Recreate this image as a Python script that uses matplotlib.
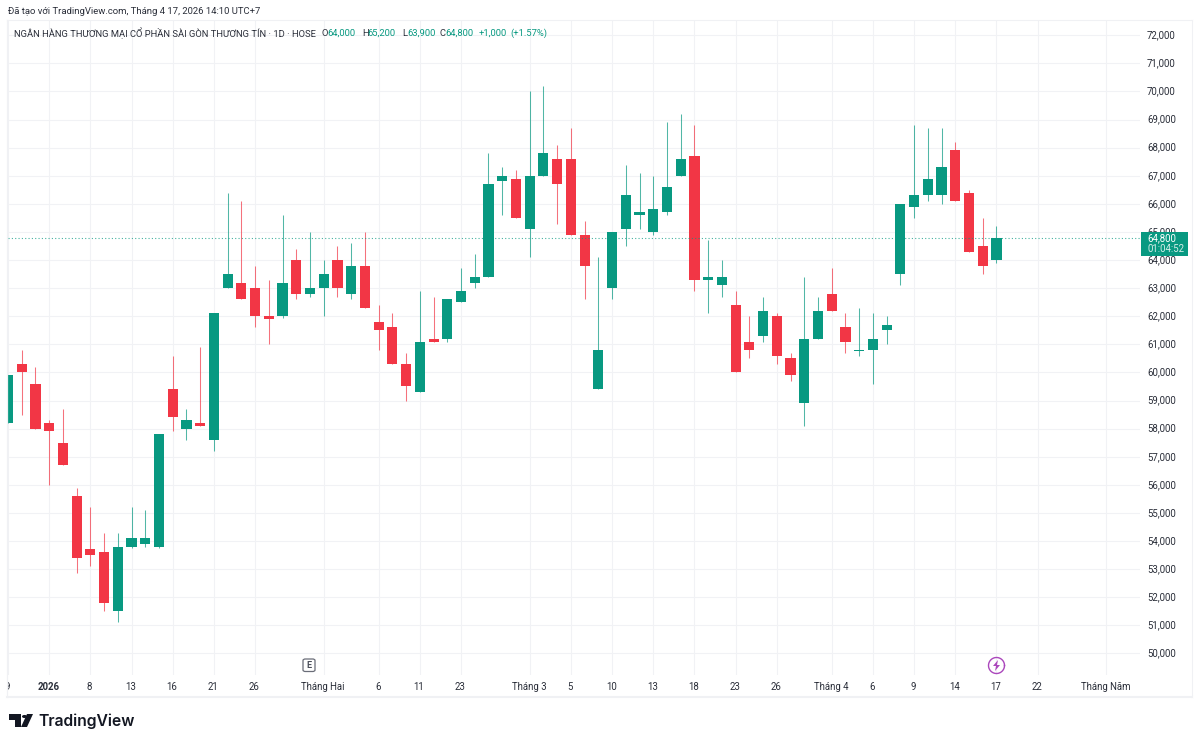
import numpy as np
import matplotlib
matplotlib.use('Agg')
import matplotlib.pyplot as plt
from matplotlib.patches import Rectangle, Circle, Polygon, FancyBboxPatch
from matplotlib.transforms import IdentityTransform, ScaledTranslation

plt.rcParams['font.family'] = ['Roboto', 'DejaVu Sans']

W, H = 1200, 744
GREEN = '#089981'
RED = '#F23645'
GRID = '#F1F2F5'
TEXT = '#2A2E39'

# OHLC, one candle per session
opens = [58200, 60300, 59600, 58200, 57500, 55600, 53700, 53600, 51500, 53800,
         53900, 53800, 59400, 58000, 58200, 57600, 63000, 63200, 63000, 62000,
         62000, 64000, 62800, 63000, 64000, 62800, 63800, 61800, 61600, 60300,
         59300, 61200, 61200, 62500, 63200, 63400, 66800, 66900, 65100, 67000,
         67600, 67600, 64900, 59400, 63000, 65100, 65600, 65000, 65700, 67000,
         67700, 63300, 63100, 62400, 61100, 61300, 62000, 60500, 58900, 61200,
         62800, 61600, 60750, 60800, 61500, 63500, 65900, 66300, 66300, 67900,
         66400, 64500, 64000]
highs = [59900, 60800, 60200, 58300, 58700, 55900, 55200, 54300, 54300, 55200,
         55100, 57800, 60600, 58700, 60900, 62100, 66400, 66100, 63800, 63300,
         65600, 64400, 65000, 64000, 64500, 64600, 65000, 62400, 62100, 60700,
         62900, 62700, 62600, 63700, 64200, 67800, 67300, 67200, 70000, 70200,
         68100, 68700, 65400, 64100, 65000, 67400, 67100, 67000, 68900, 69200,
         68800, 64700, 64000, 62900, 62000, 62700, 62100, 60700, 63400, 62700,
         63700, 62100, 62300, 62100, 62000, 66000, 68800, 68700, 68700, 68200,
         66500, 65500, 65200]
lows = [58200, 58500, 58000, 56000, 56700, 52850, 53100, 51500, 51100, 53750,
        53800, 53750, 57900, 57600, 58100, 57200, 63000, 62600, 61600, 61000,
        61950, 62600, 62700, 62000, 62700, 62600, 62300, 60800, 60300, 59000,
        59300, 61100, 61100, 62500, 63000, 63400, 65600, 65500, 64100, 67000,
        65300, 64900, 62600, 59400, 62600, 64500, 65100, 64900, 65600, 67000,
        62900, 62100, 62700, 60000, 60500, 61100, 60300, 59700, 58100, 61200,
        62200, 60700, 60600, 59600, 61000, 63100, 65500, 66100, 66000, 66100,
        64300, 63500, 63900]
closes = [59900, 60000, 58000, 57900, 56700, 53400, 53500, 51800, 53800, 54100,
          54100, 57800, 58400, 58300, 58100, 62100, 63500, 62600, 62000, 61900,
          63200, 62800, 63000, 63500, 63000, 63800, 62300, 61500, 60300, 59500,
          61100, 61100, 62600, 62900, 63400, 66700, 67000, 65500, 67000, 67800,
          66700, 64900, 63800, 60800, 65000, 66300, 65700, 65800, 66600, 67600,
          63300, 63400, 63400, 60000, 60800, 62200, 60600, 59900, 61200, 62200,
          62200, 61100, 60800, 61200, 61700, 66000, 66300, 66900, 67300, 66100,
          64300, 63800, 64800]

price_ticks = list(range(50000, 72001, 1000))
date_ticks = [0, 3, 6, 9, 12, 15, 18, 23, 27, 30, 33, 38, 41, 44, 47, 50, 53, 56,
              60, 63, 66, 69, 72, 75, 80]
date_labels = ['9', '2026', '8', '13', '16', '21', '26', 'Tháng Hai', '6', '11',
               '23', 'Tháng 3', '5', '10', '13', '18', '23', '26', 'Tháng 4',
               '6', '9', '14', '17', '22', 'Tháng Năm']
bold_dates = ['2026']
last_price = 64800

opens = np.array(opens)
closes = np.array(closes)
highs = np.array(highs)
lows = np.array(lows)
idx = np.arange(len(opens))
colors = np.where(closes >= opens, GREEN, RED)

fig = plt.figure(figsize=(W / 100, H / 100), dpi=100, facecolor='white')


# pixel position from the top left of the image -> figure fraction
def fx(px):
    return px / W


def fy(py):
    return 1 - py / H


# plot pane, pixels
left, right, top, bottom = 8, 1140, 20, 675
ax = fig.add_axes([fx(left), fy(bottom), fx(right - left), (bottom - top) / H])
ax.set_facecolor('white')

# x: candle 1 centre at 20.3 px, 13.746 px apart
step = 13.746
ax.set_xlim((left - 6.55) / step, (right - 6.55) / step)
# y: 72,000 at 35.3 px, 50,000 at 653.4 px
per_px = 22000 / (653.4 - 35.3)
ax.set_ylim(50000 - (bottom - 653.4) * per_px, 72000 + (35.3 - top) * per_px)

ax.set_axisbelow(True)
ax.set_xticks(date_ticks)
ax.set_xticklabels(date_labels)
ax.set_yticks(price_ticks)
ax.set_yticklabels([f'{p:,}' for p in price_ticks])
ax.yaxis.tick_right()
ax.grid(True, color=GRID, linewidth=0.75)
ax.tick_params(axis='both', length=0, labelsize=6.9, labelcolor=TEXT)
ax.tick_params(axis='x', pad=5)
ax.tick_params(axis='y', pad=5)
for s in ax.spines.values():
    s.set_visible(False)

# nudge tick labels onto the reference pixels
for lbl in ax.get_yticklabels():
    lbl.set_transform(lbl.get_transform() + ScaledTranslation(0, 1 / 100, fig.dpi_scale_trans))
for lbl in ax.get_xticklabels():
    lbl.set_transform(lbl.get_transform() + ScaledTranslation(-0.8 / 100, 0, fig.dpi_scale_trans))

# keep the cut off first date label inside the pane
clip = Rectangle((left, 0), right - left, H, transform=IdentityTransform())
for lbl in ax.get_xticklabels():
    lbl.set_clip_path(clip)
    if lbl.get_text() in bold_dates:
        lbl.set_fontweight('bold')

# candles
ax.vlines(idx, lows, highs, colors=colors, linewidth=0.75, alpha=0.7, zorder=2)
ax.bar(idx, np.abs(closes - opens), bottom=np.minimum(opens, closes), width=0.74,
       color=colors, linewidth=0, zorder=3)

# last price line
ax.axhline(last_price, color=GREEN, linewidth=0.8, linestyle=(0, (1, 2)), alpha=0.75, zorder=4)

# frame around chart and scale
frame = '#F0F1F4'
for x0, y0, x1, y1, lw in [(7, 20, 1192, 20, 1), (7, 20, 7, 697, 1.2), (1192, 20, 1192, 697, 1),
                           (7, 697, 1192, 697, 2)]:
    fig.add_artist(plt.Line2D([fx(x0), fx(x1)], [fy(y0), fy(y1)], color=frame, linewidth=lw * 0.75))

# price badge
fig.add_artist(Rectangle((fx(1141), fy(256)), fx(47), 24 / H, transform=fig.transFigure,
                         facecolor=GREEN, edgecolor='none', zorder=10))
fig.text(fx(1147), fy(238), '64,800', color='white', fontsize=6.9, va='center', zorder=11)
fig.text(fx(1147), fy(249), '01:04:52', color='#D5EEE9', fontsize=6.9, va='center', zorder=11)

# header lines
fig.text(fx(8), fy(11.5), 'Đã tạo với TradingView.com, Tháng 4 17, 2026 14:10 UTC+7',
         color=TEXT, fontsize=6.8, va='center')
fig.text(fx(14), fy(33), 'NGÂN HÀNG THƯƠNG MẠI CỔ PHẦN SÀI GÒN THƯƠNG TÍN · 1D · HOSE',
         color=TEXT, fontsize=6.76, va='center')
legend_bits = [(321, 'O', TEXT), (327, '64,000', GREEN), (362, 'H', TEXT), (367, '65,200', GREEN),
               (402, 'L', TEXT), (407, '63,900', GREEN), (440, 'C', TEXT), (445, '64,800', GREEN),
               (479, '+1,000', GREEN), (510, '(+1.57%)', GREEN)]
for x, s, c in legend_bits:
    fig.text(fx(x), fy(33), s, color=c, fontsize=6.75, va='center')


# drawn in image pixels, y flipped
def px_poly(points, **kw):
    pts = [(fx(x), fy(y)) for x, y in points]
    fig.add_artist(Polygon(pts, closed=True, transform=fig.transFigure, **kw))


# earnings marker
fig.add_artist(FancyBboxPatch((fx(303), fy(671.5)), fx(12), 12.5 / H,
                              boxstyle='round,pad=0,rounding_size=0.002', transform=fig.transFigure,
                              facecolor='white', edgecolor='#6A6D78', linewidth=0.9))
fig.text(fx(309), fy(665.5), 'E', color='#4A4E59', fontsize=6.5, ha='center', va='center', fontweight='bold')

# dividend/split style marker
purple = '#AB47BC'
cx, cy = 996.5, 665.5
t = np.linspace(0, 2 * np.pi, 60)
fig.add_artist(plt.Line2D(fx(cx + 8 * np.cos(t)), fy(cy + 8 * np.sin(t)), color=purple, linewidth=1.0))
px_poly([(998, 660), (993, 666), (996, 666), (995, 671), (1000, 665), (997, 665)], facecolor=purple, edgecolor='none')

# logo
ink = '#131722'
px_poly([(9, 714), (21, 714), (21, 727), (15, 727), (15, 720), (9, 720)], facecolor=ink, edgecolor='none')
fig.add_artist(Circle((fx(24.5), fy(716.5)), 2.5 / W, transform=fig.transFigure, facecolor=ink, edgecolor='none'))
px_poly([(27, 714), (33, 714), (27, 727), (21, 727)], facecolor=ink, edgecolor='none')
fig.text(fx(38), fy(721.5), 'TradingView', color=ink, fontsize=11.3, va='center', fontweight='semibold',
         family=['Inter', 'DejaVu Sans'])

fig.savefig('out.png', dpi=100)
